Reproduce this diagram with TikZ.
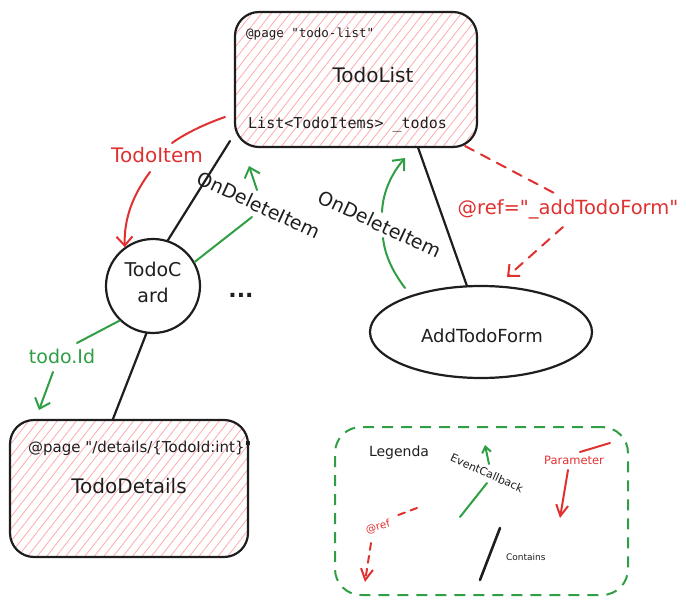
\documentclass[tikz,border=0pt]{standalone}
\usepackage{fontspec}
\setmainfont{DejaVu Sans}[Ligatures=TeXOff]
\setmonofont{DejaVu Sans Mono}
\usetikzlibrary{shapes.geometric,patterns.meta,arrows.meta,calc}
\definecolor{exred}{HTML}{E03131}
\definecolor{exgreen}{HTML}{2F9E44}
\definecolor{hatchc}{HTML}{FFAAAA}
\definecolor{ink}{HTML}{1E1E1E}
\newcommand{\myfs}[1]{\fontsize{#1}{#1}\selectfont}
\tikzset{
  pagebox/.style={draw=ink, line width=2.2pt, rounded corners=24pt,
    pattern={Lines[angle=52,distance=7.5pt,line width=0.8pt]}, pattern color=hatchc, inner sep=0pt},
  compnode/.style={draw=ink, line width=2.2pt, inner sep=0pt, fill=white},
  legbox/.style={draw=exgreen, line width=2pt, rounded corners=26pt, dash pattern=on 11pt off 8pt, inner sep=0pt},
  contain/.style={draw=ink, line width=2.2pt, line cap=round},
  redln/.style={draw=exred, line width=2pt, line cap=round},
  greenln/.style={draw=exgreen, line width=2pt, line cap=round},
  refdash/.style={dash pattern=on 10pt off 8pt},
  legdash/.style={dash pattern=on 7pt off 6pt},
  barb/.style={-{Straight Barb[length=9pt,width=16pt]}},
  smallbarb/.style={-{Straight Barb[length=6pt,width=9pt]}},
  legbarb/.style={-{Straight Barb[length=11pt,width=12pt]}},
  txt/.style={inner sep=0pt, text=ink},
}
\begin{document}
\begin{tikzpicture}[x=1pt,y=-1pt]
\useasboundingbox (0,0) rectangle (686,604);

% ---- main nodes ----
\node[pagebox, minimum width=242pt, minimum height=135pt] (todolist) at (356,79.5) {};
\node[txt, anchor=base west, font=\ttfamily\myfs{12.5}] (tlpage) at (246,38) {@page "todo-list"};
\node[txt, anchor=base, font=\myfs{20}] (tltitle) at (373,83) {TodoList};
\node[txt, anchor=base west, font=\ttfamily\myfs{15}] (tlfield) at (248,129) {List<TodoItems> \_todos};

\node[compnode, circle, minimum size=94pt] (todocard) at (153,286) {};
\node[txt, anchor=base, font=\myfs{19}] (tcA) at (153,277) {TodoC};
\node[txt, anchor=base, font=\myfs{19}] (tcB) at (153,303) {ard};

\node[txt, anchor=base, font=\bfseries\myfs{22}] (dots) at (241,298) {...};

\node[compnode, ellipse, minimum width=222pt, minimum height=92pt] (addform) at (481,332) {};
\node[txt, anchor=base, font=\myfs{18}] (aftext) at (482,342) {AddTodoForm};

\node[pagebox, minimum width=238pt, minimum height=137pt] (tododetails) at (129,488.5) {};
\node[txt, anchor=base west, font=\myfs{15}] (tdpage) at (28,452) {@page "/details/\{TodoId:int\}"};
\node[txt, anchor=base, font=\myfs{20}] (tdtitle) at (129,493) {TodoDetails};

\node[legbox, minimum width=293pt, minimum height=168pt] (legend) at (481.5,511) {};
\node[txt, anchor=base, font=\myfs{14}] (legtitle) at (399,456) {Legenda};

% ---- contains lines ----
\coordinate (c1) at (230,141);
\draw[contain] (c1) -- (todocard.72);
\draw[contain] ($(todolist.south)+(62,0)$) -- (addform.107);
\draw[contain] (todocard.-98) -- ($(tododetails.north)+(-16,0)$);

% ---- TodoItem parameter ----
\coordinate (ti1) at (225,117);
\coordinate (ti2) at (172,143);
\coordinate (ti3) at (150,172);
\draw[redln] (ti1) .. controls (205,124) and (186,133) .. (ti2);
\node[txt, text=exred, font=\myfs{20}, anchor=base] (tilbl) at (157,163) {TodoItem};
\draw[redln, barb] (ti3) .. controls (133,195) and (124,218) .. (todocard.126);

% ---- OnDeleteItem (card) ----
\coordinate (od1) at (252,217);
\coordinate (od2) at (257,190);
\coordinate (od3) at (249,166);
\draw[greenln] (todocard.30) -- (od1);
\draw[greenln, barb] (od2) -- (od3);
\node[txt, font=\myfs{19}, rotate=-25] (odlbl1) at (259,205) {OnDeleteItem};

% ---- OnDeleteItem (form) ----
\coordinate (od4) at (405,288);
\coordinate (od5) at (383,238);
\coordinate (od6) at (382,212);
\coordinate (od7) at (405,158);
\draw[greenln] (od4) .. controls (393,272) and (385,256) .. (od5);
\draw[greenln, barb] (od6) .. controls (383,190) and (393,172) .. (od7);
\node[txt, font=\myfs{19}, rotate=-25] (odlbl2) at (380,224) {OnDeleteItem};

% ---- @ref ----
\coordinate (rf1) at (465,146);
\coordinate (rf2) at (556,194);
\coordinate (rf3) at (563,227);
\coordinate (rf4) at (507,277);
\draw[redln, refdash] (rf1) -- (rf2);
\node[txt, text=exred, font=\myfs{19.5}, anchor=base] (rflbl) at (568,215) {@ref="\_addTodoForm"};
\draw[redln, refdash, barb] (rf3) -- (rf4);

% ---- todo.Id ----
\coordinate (id1) at (77,343);
\coordinate (id2) at (53,372);
\coordinate (id3) at (39,410);
\draw[greenln] (todocard.226) -- (id1);
\node[txt, text=exgreen, font=\myfs{19}, anchor=base] (idlbl) at (62,363) {todo.Id};
\draw[greenln, barb] (id2) -- (id3);

% ---- legend contents ----
\coordinate (ev1) at (460,517);
\coordinate (ev2) at (487,483);
\coordinate (ev3) at (489,464);
\coordinate (ev4) at (485,445);
\draw[greenln] (ev1) -- (ev2);
\draw[greenln, smallbarb] (ev3) -- (ev4);
\node[txt, font=\myfs{11}, rotate=-24] (evlbl) at (487,473) {EventCallback};

\coordinate (pa1) at (610,443);
\coordinate (pa2) at (580,452);
\coordinate (pa3) at (568,470);
\coordinate (pa4) at (560,518);
\draw[redln] (pa1) -- (pa2);
\node[txt, text=exred, font=\myfs{11.5}, anchor=base] (palbl) at (574,464) {Parameter};
\draw[redln, legbarb] (pa3) -- (pa4);

\coordinate (lr1) at (417,508);
\coordinate (lr2) at (393,517);
\coordinate (lr3) at (371,543);
\coordinate (lr4) at (365,582);
\draw[redln, legdash] (lr1) -- (lr2);
\node[txt, text=exred, font=\myfs{10.5}, rotate=15] (lrlbl) at (378,527) {@ref};
\draw[redln, legdash, legbarb] (lr3) -- (lr4);

\coordinate (ct1) at (500,528);
\coordinate (ct2) at (480,580);
\draw[contain, line width=2.6pt] (ct1) -- (ct2);
\node[txt, anchor=west, font=\myfs{9}] (ctlbl) at (506,557) {Contains};

\end{tikzpicture}
\end{document}
